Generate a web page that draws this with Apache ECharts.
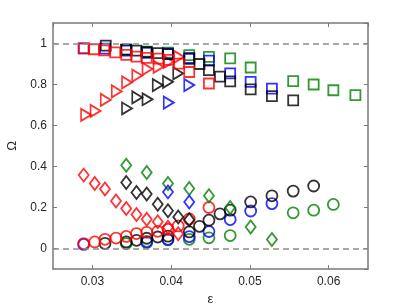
<!DOCTYPE html>
<html><head><meta charset="utf-8">
<script src="https://cdn.jsdelivr.net/npm/echarts@6/dist/echarts.min.js"></script>
<style>html,body{margin:0;padding:0;background:#fff}#c{width:407px;height:306px}</style>
</head><body><div id="c"></div>
<script>
// ---- data (ε, Ω) ----
const redSquares = [[0.0289,0.976],[0.0302,0.972],[0.0315,0.966],[0.0329,0.957],[0.0343,0.945],[0.0356,0.936],[0.0369,0.930],[0.0384,0.926],[0.0397,0.920],[0.0410,0.902],[0.0423,0.861],[0.0448,0.805]];
const blackSquares = [[0.0317,0.990],[0.0343,0.970],[0.0356,0.965],[0.0369,0.958],[0.0383,0.953],[0.0396,0.948],[0.0423,0.925],[0.0436,0.900],[0.0448,0.870],[0.0462,0.838],[0.0475,0.815],[0.0501,0.776],[0.0528,0.743],[0.0555,0.723]];
const blueSquares = [[0.0289,0.976],[0.0316,0.975],[0.0343,0.965],[0.0369,0.955],[0.0396,0.950],[0.0423,0.930],[0.0448,0.916],[0.0475,0.854],[0.0501,0.813],[0.0528,0.780]];
const greenSquares = [[0.0343,0.970],[0.0369,0.960],[0.0396,0.955],[0.0423,0.943],[0.0448,0.935],[0.0475,0.927],[0.0501,0.883],[0.0555,0.816],[0.0581,0.800],[0.0606,0.772],[0.0634,0.748]];

const redTriangles = [[0.0292,0.652],[0.0304,0.671],[0.0317,0.725],[0.0331,0.766],[0.0344,0.810],[0.0357,0.843],[0.0370,0.876],[0.0384,0.886],[0.0397,0.910],[0.0410,0.935]];
const blackTriangles = [[0.0344,0.683],[0.0357,0.737],[0.0370,0.728],[0.0383,0.797],[0.0396,0.813],[0.0409,0.854]];
const blueTriangles = [[0.0397,0.712],[0.0423,0.797]];

const redDiamonds = [[0.0289,0.358],[0.0303,0.317],[0.0316,0.290],[0.0330,0.232],[0.0343,0.195],[0.0356,0.166],[0.0369,0.143],[0.0383,0.130],[0.0396,0.104],[0.0409,0.072]];
const blackDiamonds = [[0.0343,0.322],[0.0356,0.273],[0.0369,0.266],[0.0383,0.216],[0.0396,0.184],[0.0409,0.154],[0.0423,0.140]];
const blueDiamonds = [[0.0396,0.276],[0.0423,0.227]];
const greenDiamonds = [[0.0343,0.406],[0.0369,0.371],[0.0396,0.317],[0.0423,0.293],[0.0448,0.257],[0.0475,0.200],[0.0501,0.105],[0.0528,0.044]];

const redCircles = [[0.0289,0.024],[0.0303,0.032],[0.0316,0.045],[0.0330,0.051],[0.0343,0.059],[0.0356,0.073],[0.0369,0.079],[0.0383,0.084],[0.0396,0.094],[0.0409,0.110],[0.0423,0.144],[0.0448,0.200]];
const blackCircles = [[0.0316,0.025],[0.0343,0.032],[0.0356,0.040],[0.0369,0.050],[0.0383,0.056],[0.0396,0.060],[0.0423,0.081],[0.0436,0.108],[0.0448,0.138],[0.0462,0.169],[0.0475,0.187],[0.0501,0.227],[0.0528,0.257],[0.0555,0.280],[0.0581,0.305]];
const blueCircles = [[0.0289,0.020],[0.0369,0.030],[0.0396,0.045],[0.0423,0.058],[0.0448,0.083],[0.0475,0.141],[0.0501,0.183],[0.0528,0.219]];
const greenCircles = [[0.0343,0.024],[0.0369,0.035],[0.0396,0.042],[0.0423,0.045],[0.0448,0.052],[0.0475,0.063],[0.0555,0.174],[0.0581,0.187],[0.0606,0.215]];

const refLines = [0, 1];
const xRange = [0.025, 0.065];
const yRange = [-0.1, 1.1];

// ---- chart ----
const RED = '#ff0000', BLACK = '#000000', BLUE = '#0000ff', GREEN = '#008000';
const AX = '#7a7a7a';
const FONT = 'Liberation Sans';

function sc(data, color, symbol, size, rotate) {
  return {
    type: 'scatter', data: data, symbol: symbol, symbolSize: size,
    symbolRotate: rotate || 0, silent: true, animation: false,
    itemStyle: { color: 'rgba(0,0,0,0)', borderColor: color, borderWidth: 1.8 }
  };
}

const series = [
  sc(greenCircles, GREEN, 'circle', 11), sc(blueCircles, BLUE, 'circle', 11),
  sc(blackCircles, BLACK, 'circle', 11), sc(redCircles, RED, 'circle', 11),
  sc(greenDiamonds, GREEN, 'diamond', [10,13]), sc(blueDiamonds, BLUE, 'diamond', [10,13]),
  sc(blackDiamonds, BLACK, 'diamond', [10,13]), sc(redDiamonds, RED, 'diamond', [10,13]),
  sc(blueTriangles, BLUE, 'triangle', [12,10], -90), sc(blackTriangles, BLACK, 'triangle', [12,10], -90),
  sc(redTriangles, RED, 'triangle', [12,10], -90),
  sc(greenSquares, GREEN, 'rect', 10), sc(blueSquares, BLUE, 'rect', 10),
  sc(blackSquares, BLACK, 'rect', 10), sc(redSquares, RED, 'rect', 10)
];
series[0].markLine = {
  silent: true, symbol: ['none','none'], animation: false, label: { show: false },
  lineStyle: { color: '#8c8c8c', type: [6,4], width: 1.5 },
  data: refLines.map(v => ({ yAxis: v }))
};

const labelStyle = { color: '#262626', fontSize: 12, fontFamily: FONT };
function fmt(v) { return String(Math.round(v * 1000) / 1000); }

const chart = echarts.init(document.getElementById('c'), null, { renderer: 'canvas' });
chart.setOption({
  animation: false,
  backgroundColor: '#fff',
  grid: { left: 53, right: 39, top: 23, bottom: 37, show: false, outerBoundsMode: 'none', containLabel: false },
  xAxis: [
    { type: 'value', min: xRange[0], max: xRange[1], splitNumber: 4, position: 'bottom',
      name: 'ε', nameLocation: 'middle', nameGap: 22,
      nameTextStyle: { color: '#262626', fontSize: 13, fontFamily: FONT },
      axisLine: { show: true, onZero: false, lineStyle: { color: AX, width: 1.5 } },
      axisTick: { show: true, inside: true, length: 4, lineStyle: { color: AX, width: 1 } },
      axisLabel: { ...labelStyle, margin: 7, showMinLabel: false, showMaxLabel: false, formatter: fmt },
      splitLine: { show: false } },
    { type: 'value', min: xRange[0], max: xRange[1], splitNumber: 4, position: 'top',
      axisLine: { show: true, onZero: false, lineStyle: { color: AX, width: 1.5 } },
      axisTick: { show: true, inside: true, length: 4, lineStyle: { color: AX, width: 1 } },
      axisLabel: { show: false }, splitLine: { show: false } }
  ],
  yAxis: [
    { type: 'value', min: yRange[0], max: yRange[1], splitNumber: 6, position: 'left',
      name: 'Ω', nameLocation: 'middle', nameGap: 27, nameRotate: 90,
      nameTextStyle: { color: '#262626', fontSize: 13, fontFamily: FONT },
      axisLine: { show: true, onZero: false, lineStyle: { color: AX, width: 1.5 } },
      axisTick: { show: true, inside: true, length: 4, lineStyle: { color: AX, width: 1 } },
      axisLabel: { ...labelStyle, margin: 6, showMinLabel: false, showMaxLabel: false, formatter: fmt },
      splitLine: { show: false } },
    { type: 'value', min: yRange[0], max: yRange[1], splitNumber: 6, position: 'right',
      axisLine: { show: true, onZero: false, lineStyle: { color: AX, width: 1.5 } },
      axisTick: { show: true, inside: true, length: 4, lineStyle: { color: AX, width: 1 } },
      axisLabel: { show: false }, splitLine: { show: false } }
  ],
  series: series
});
</script>
</body></html>
